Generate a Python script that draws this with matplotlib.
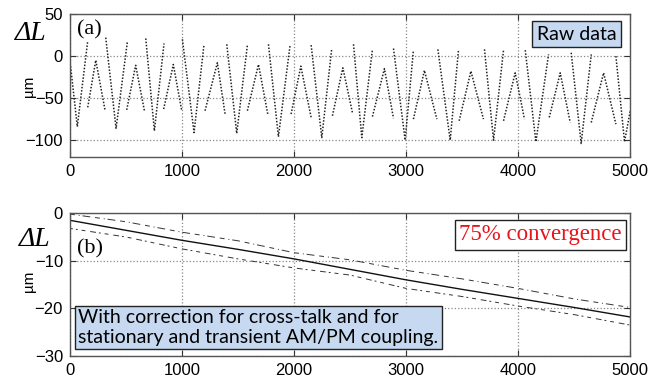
import numpy as np
import matplotlib.pyplot as plt

# (a) raw data: deep V strokes (top-left, bottom, top-right) and small peaks
v_x = [[5, 65, 158], [319, 411, 512], [676, 753, 839], [1003, 1107, 1196],
       [1399, 1488, 1583], [1771, 1860, 1964], [2152, 2247, 2336],
       [2530, 2604, 2699], [2887, 2991, 3065], [3283, 3393, 3467],
       [3699, 3780, 3869], [4063, 4158, 4271], [4473, 4562, 4652],
       [4872, 4949, 5000]]
v_y = [[-12, -84, 18], [22, -86, 17], [21, -89, 15], [20, -91, 14],
       [14, -92, 13], [14, -96, 13], [13, -97, 9], [14, -97, 8],
       [9, -100, 7], [8, -100, 7], [8, -100, 7], [7, -102, 2],
       [4, -104, 2], [0, -102, -65]]
peak_x = [[158, 230, 312], [506, 586, 664], [836, 922, 997], [1205, 1315, 1384],
          [1583, 1682, 1765], [1973, 2060, 2152], [2342, 2435, 2520],
          [2699, 2806, 2887], [3065, 3163, 3274], [3473, 3578, 3690],
          [3869, 3973, 4056], [4277, 4375, 4464], [4652, 4762, 4872]]
peak_y = [[-61, -5, -64], [-64, -11, -65], [-63, -10, -65], [-65, -8, -69],
          [-65, -10, -69], [-69, -12, -73], [-71, -14, -67], [-72, -15, -74],
          [-75, -17, -75], [-77, -18, -75], [-77, -20, -75], [-73, -20, -79],
          [-79, -20, -81]]

# (b) corrected data
t_b = [0, 500, 1000, 1500, 2000, 2500, 3000, 3500, 4000, 4500, 5000]
mid_b = [-1.5, -3.6, -5.7, -7.6, -9.6, -11.8, -14.0, -16.0, -17.9, -19.8, -21.8]
up_b = [-0.2, -1.8, -4.0, -5.8, -8.3, -9.8, -12.0, -13.8, -15.8, -18.0, -19.8]
lo_b = [-3.2, -5.0, -7.5, -9.6, -11.5, -13.0, -15.8, -17.5, -19.5, -21.3, -23.5]

xticks = [0, 1000, 2000, 3000, 4000, 5000]

plt.rcParams['font.family'] = ['Liberation Sans', 'DejaVu Sans']
fig = plt.figure(figsize=(6.63, 3.80), dpi=100)
ax1 = fig.add_axes([0.1056, 0.587, 0.845, 0.376])
ax2 = fig.add_axes([0.1056, 0.063, 0.845, 0.376])

for xs, ys in zip(v_x, v_y):
    ax1.plot(xs, ys, color='#222222', lw=1.1, ls=(0, (1, 1.1)))
for xs, ys in zip(peak_x, peak_y):
    ax1.plot(xs, ys, color='#222222', lw=1.1, ls=(0, (1, 1.1)))

ax2.plot(t_b, up_b, color='#333333', lw=0.7, ls=(0, (5, 4, 1, 3, 8, 5)))
ax2.plot(t_b, lo_b, color='#333333', lw=0.7, ls=(3, (6, 3, 2, 4, 4, 5)))
ax2.plot(t_b, mid_b, color='#111111', lw=1.0)

for ax, ylim, yt in [(ax1, (-120, 50), [-100, -50, 0, 50]),
                     (ax2, (-30, 0), [-30, -20, -10, 0])]:
    ax.set_xlim(0, 5000)
    ax.set_ylim(*ylim)
    ax.set_xticks(xticks)
    ax.set_yticks(yt)
    ax.grid(True, ls=':', color='#888888', lw=0.9)
    ax.tick_params(direction='in', length=4, labelsize=12, top=True, right=True,
                   pad=5, color='#333333')
    for s in ax.spines.values():
        s.set_color('#555555')
        s.set_linewidth(1.0)

ax1.text(0.013, 0.89, '(a)', transform=ax1.transAxes, family='Liberation Serif',
         fontsize=16, va='center')
ax2.text(0.013, 0.75, '(b)', transform=ax2.transAxes, family='Liberation Serif',
         fontsize=16, va='center')

fig.text(0.047, 0.912, 'ΔL', fontsize=20, ha='center', va='center',
         family='Liberation Serif', style='italic')
fig.text(0.052, 0.370, 'ΔL', fontsize=20, ha='center', va='center',
         family='Liberation Serif', style='italic')
fig.text(0.043, 0.772, 'µm', fontsize=11, rotation=90, ha='center', va='center')
fig.text(0.043, 0.26, 'µm', fontsize=11, rotation=90, ha='center', va='center')

ax1.text(0.975, 0.86, 'Raw data', transform=ax1.transAxes, ha='right', va='center',
         family='Lato', fontsize=14,
         bbox=dict(boxstyle='square,pad=0.25', fc='#c6d9f1', ec='#222222', lw=1.0))
ax2.text(0.985, 0.85, '75% convergence', transform=ax2.transAxes, ha='right',
         va='center', family='Liberation Serif', fontsize=16.5, color='#e8141c',
         bbox=dict(boxstyle='square,pad=0.2', fc='white', ec='#222222', lw=1.0))
ax2.text(0.015, 0.2, 'With correction for cross-talk and for\n'
         'stationary and transient AM/PM coupling.', transform=ax2.transAxes,
         ha='left', va='center', family='Lato', fontsize=14, linespacing=1.15,
         bbox=dict(boxstyle='square,pad=0.2', fc='#c6d9f1', ec='#222222', lw=1.0))

fig.savefig('out.png', dpi=100)
